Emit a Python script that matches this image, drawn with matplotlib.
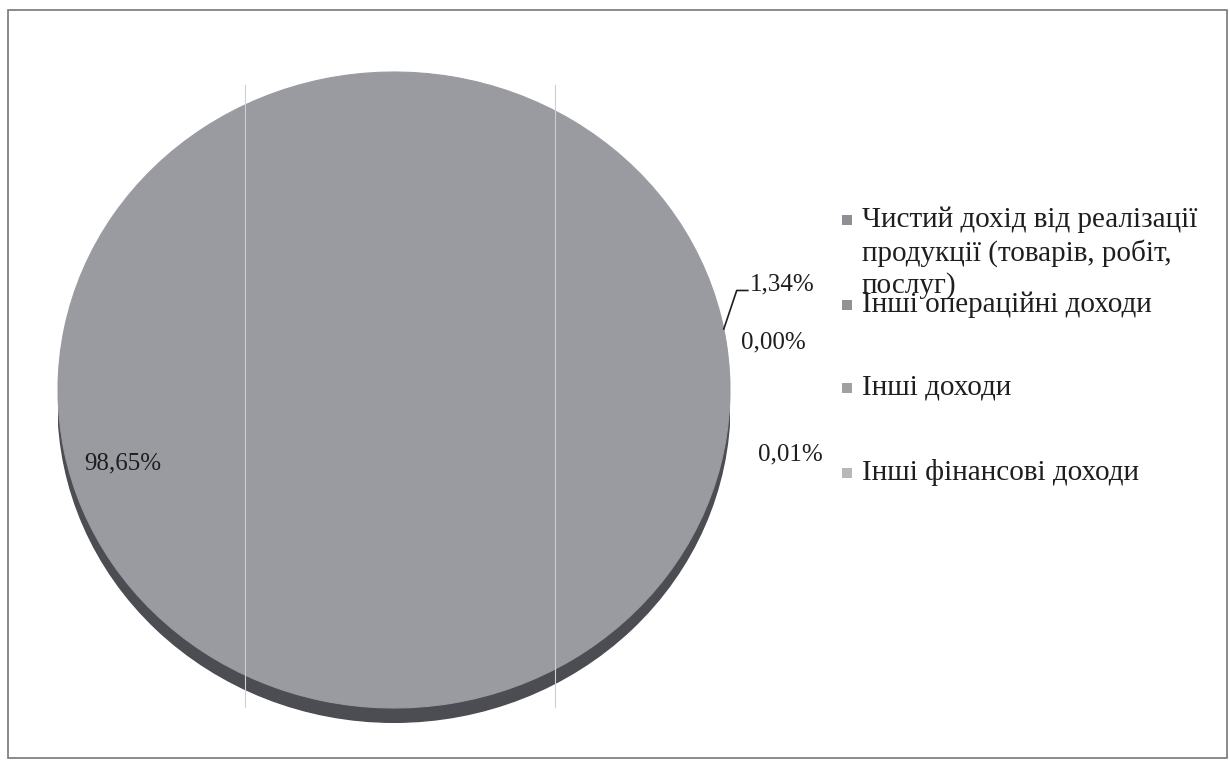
import matplotlib.pyplot as plt
from matplotlib.patches import Ellipse, Rectangle
import numpy as np

# data
labels = ['Чистий дохід від реалізації\nпродукції (товарів, робіт,\nпослуг)',
          'Інші операційні доходи',
          'Інші доходи',
          'Інші фінансові доходи']
values = [98.65, 1.34, 0.00, 0.01]
pct_text = ['98,65%', '1,34%', '0,00%', '0,01%']

face = '#9a9ba1'
marker_colors = ['#8e8f95', '#919298', '#a0a0a4', '#b8b8ba']
W, H = 1230, 768

plt.rcParams['font.family'] = ['Liberation Serif', 'DejaVu Serif']

fig = plt.figure(figsize=(W / 100, H / 100), dpi=100)

# outer frame
fig.add_artist(Rectangle((8 / W, 1 - 758 / H), 1219 / W, 748 / H,
                         transform=fig.transFigure, fill=False,
                         edgecolor='#777777', lw=1.2))

# pie axes: face ellipse x 58..730, y 72..708 px, rim below
rx, ry = 336, 318
ax = fig.add_axes([58 / W, 1 - (708 + 0.06 * ry) / H, 672 / W, (636 + 0.06 * ry) / H])

# dark rim of the tilted pie
ax.add_patch(Ellipse((0, -0.045), 2, 2, color='#4c4d52', zorder=0))

wedges, _ = ax.pie(values, colors=[face] * len(values), startangle=8.6,
                   counterclock=False, radius=1,
                   wedgeprops=dict(linewidth=0.8, edgecolor=face))
ax.set_aspect('auto')
ax.set_xlim(-1, 1)
ax.set_ylim(-1.06, 1)
ax.axis('off')

# faint scan lines over the face
for xv in [(245 - 394) / rx, (555 - 394) / rx]:
    ax.axvline(xv, ymin=0.03, ymax=0.98, color='#cfcfd3', lw=0.8, zorder=3)

# percent labels (layout positions in axes data units)
lab_pos = [(-0.807, -0.230), (1.155, 0.333), (1.128, 0.148), (1.179, -0.204)]
for t, p in zip(pct_text, lab_pos):
    ax.text(p[0], p[1], t, fontsize=18, ha='center', va='center',
            color='#1e1e1e', clip_on=False, zorder=5)

# leader line for the 1,34% slice
w = wedges[1]
mid = np.deg2rad((w.theta1 + w.theta2) / 2)
ex, ey = np.cos(mid), np.sin(mid)
tx, ty = lab_pos[1]
kx = tx - 0.12
ax.plot([ex, kx - 0.015, kx + 0.018], [ey, ty - 0.02, ty - 0.02],
        color='#1e1e1e', lw=1.2, clip_on=False, zorder=5)

# legend drawn by hand to keep the original overlap
leg_y = [220, 305, 388, 473]
line_h = 33
for lab, c, y in zip(labels, marker_colors, leg_y):
    fig.add_artist(Rectangle((842 / W, 1 - (y + 5) / H), 10 / W, 10 / H,
                             transform=fig.transFigure, facecolor=c,
                             edgecolor='none'))
    for k, line in enumerate(lab.split('\n')):
        fig.text(862 / W, 1 - (y + k * line_h) / H, line, fontsize=21,
                 ha='left', va='center', color='#1e1e1e')

fig.savefig('out.png', dpi=100)
